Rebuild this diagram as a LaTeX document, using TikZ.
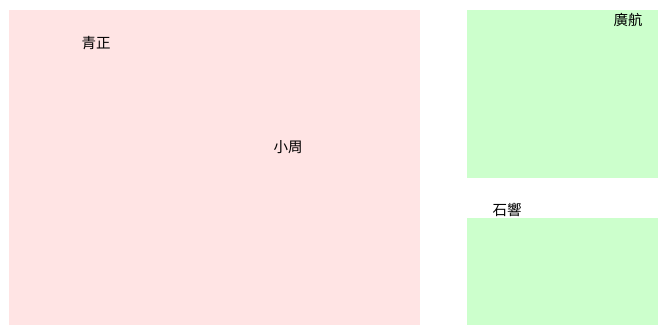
\documentclass[tikz,border=0pt]{standalone}
\usepackage{fontspec}
\setmainfont{Noto Sans CJK TC}
\usetikzlibrary{positioning}
\definecolor{zonepink}{RGB}{255,228,228}
\definecolor{zonegreen}{RGB}{204,255,204}
\tikzset{
         zone/.style={rectangle,inner sep=0pt,outer sep=0pt,anchor=north west},
         tag/.style={font=\fontsize{14.5}{16}\selectfont,inner sep=0pt}
        }
\begin{document}
\begin{tikzpicture}[x=1pt,y=-1pt]
\useasboundingbox(0,0)rectangle(658,325);
%zones
\node[zone,fill=zonepink,minimum width=411pt,minimum height=315pt](left)at(9,10){};
\node[zone,fill=zonegreen,minimum width=191pt,minimum height=168pt](topright)at(467,10){};
\node[zone,fill=zonegreen,minimum width=191pt,minimum height=107pt](lowright)at(467,218){};
%labels
\node[tag](qingzheng)at(96,43){青正};
\node[tag](xiaozhou)at(288,147){小周};
\node[tag](guanghang)at(628,20){廣航};
\node[tag](shixiang)at(507,210){石響};
\end{tikzpicture}
\end{document}
